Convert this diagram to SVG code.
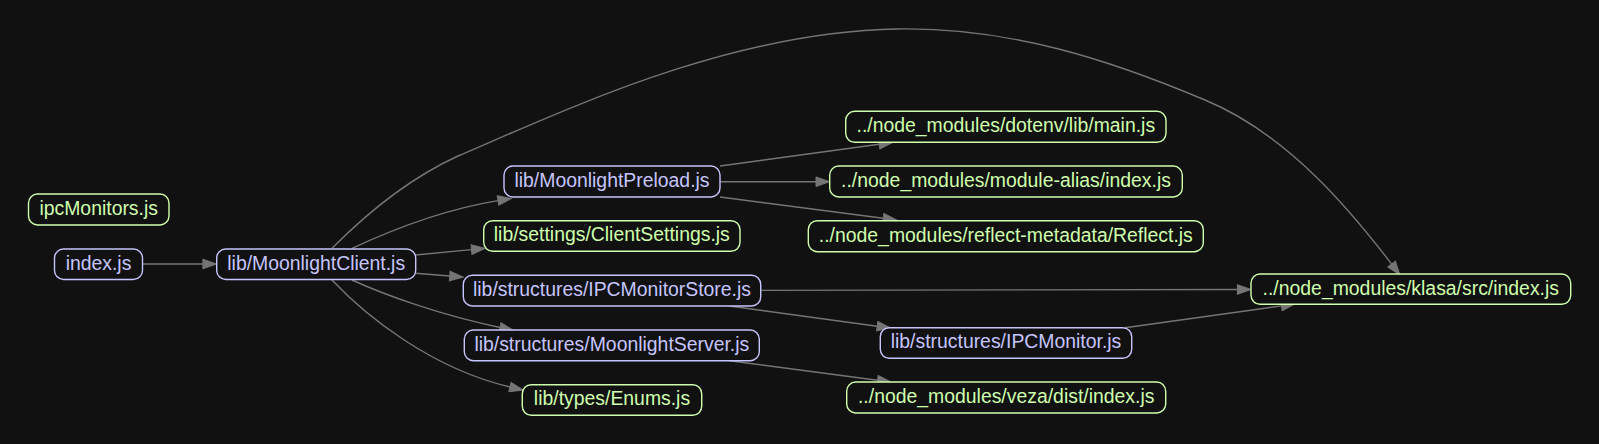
<svg xmlns="http://www.w3.org/2000/svg" width="1599" height="444" viewBox="0 0 1599 444">
<defs>
<style>
.n rect{fill:#111111;stroke-width:1.4}
.n text{font-family:"Liberation Sans",Arial,sans-serif;font-size:19.4px;text-anchor:middle}
.b rect{stroke:#c6c5fe}
.b text{fill:#c6c5fe}
.g rect{stroke:#cfffac}
.g text{fill:#cfffac}
#edges path{fill:none;stroke:#757575;stroke-width:1.4;marker-end:url(#ah)}
</style>
<marker id="ah" markerUnits="userSpaceOnUse" markerWidth="14" markerHeight="10" refX="0" refY="5" orient="auto" overflow="visible">
<path d="M0,0.2 L13.6,5 L0,9.8 Z" fill="#757575" stroke="#757575" stroke-width="1"/>
</marker>
</defs>
<rect width="1599" height="444" fill="#111111"/>
<g id="edges">
<path d="M143,264 L202.9,264"/>
<path d="M332,248.3 C365,215 410,178 458,156 C570,108 730,32 897,29 C1010,27 1110,60 1205,100 C1290,135 1355,216 1391.6,264.1"/>
<path d="M352,248.3 C385,233 440,210 498,200.6"/>
<path d="M415.5,255 L471.5,249.6"/>
<path d="M415.5,273.3 L449.7,276"/>
<path d="M352,280 C385,295 440,315 500,327.5"/>
<path d="M332,280 C365,315 430,368 510,387"/>
<path d="M720,166 L879.2,144.2"/>
<path d="M720,181.7 L816,181.7"/>
<path d="M720,197 L883.2,218.2"/>
<path d="M760.7,290.4 L1237.4,289.5"/>
<path d="M729.3,306 L877.2,326.2"/>
<path d="M729.3,360.7 L877.5,380.2"/>
<path d="M1125,327.7 L1281.5,305.9"/>
</g>
<g id="ipcMonitors" class="n g"><rect x="28.5" y="194" width="140.5" height="31" rx="9"/><text x="98.7" y="215">ipcMonitors.js</text></g>
<g id="index" class="n b"><rect x="54.5" y="249" width="88" height="30.5" rx="9"/><text x="98.5" y="269.5">index.js</text></g>
<g id="MoonlightClient" class="n b"><rect x="216.7" y="249" width="199" height="30.5" rx="9"/><text x="316.2" y="269.5">lib/MoonlightClient.js</text></g>
<g id="MoonlightPreload" class="n b"><rect x="504" y="166" width="216" height="31" rx="9"/><text x="612" y="186.8">lib/MoonlightPreload.js</text></g>
<g id="ClientSettings" class="n g"><rect x="483.7" y="220.7" width="256.3" height="30.6" rx="9"/><text x="611.8" y="241.3">lib/settings/ClientSettings.js</text></g>
<g id="IPCMonitorStore" class="n b"><rect x="463.3" y="275.3" width="297.4" height="30.7" rx="9"/><text x="612" y="295.9">lib/structures/IPCMonitorStore.js</text></g>
<g id="MoonlightServer" class="n b"><rect x="464.3" y="330" width="295" height="30.7" rx="9"/><text x="611.8" y="350.6">lib/structures/MoonlightServer.js</text></g>
<g id="Enums" class="n g"><rect x="522.3" y="384.7" width="179.4" height="30.6" rx="9"/><text x="612" y="405.3">lib/types/Enums.js</text></g>
<g id="dotenv" class="n g"><rect x="845.7" y="111.3" width="320.3" height="31" rx="9"/><text x="1005.8" y="132.1">../node_modules/dotenv/lib/main.js</text></g>
<g id="moduleAlias" class="n g"><rect x="829.7" y="166" width="352.6" height="31" rx="9"/><text x="1006" y="186.8">../node_modules/module-alias/index.js</text></g>
<g id="reflectMetadata" class="n g"><rect x="808.3" y="220.7" width="395" height="31" rx="9"/><text x="1005.8" y="241.5">../node_modules/reflect-metadata/Reflect.js</text></g>
<g id="IPCMonitor" class="n b"><rect x="880.3" y="327.7" width="251.4" height="30.6" rx="9"/><text x="1006" y="348.3">lib/structures/IPCMonitor.js</text></g>
<g id="veza" class="n g"><rect x="846.7" y="382" width="319" height="31" rx="9"/><text x="1006.2" y="402.8">../node_modules/veza/dist/index.js</text></g>
<g id="klasa" class="n g"><rect x="1251" y="274" width="319.7" height="30.3" rx="9"/><text x="1410.8" y="294.5">../node_modules/klasa/src/index.js</text></g>
</svg>
